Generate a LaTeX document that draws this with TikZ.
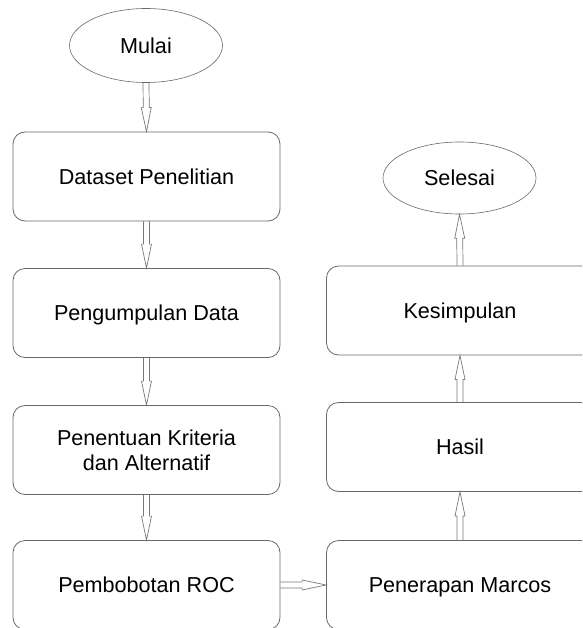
\documentclass[tikz,border=0pt]{standalone}
\usepackage{fontspec}
\setmainfont{Liberation Sans}
\usetikzlibrary{calc,shapes.geometric}
\definecolor{linecol}{RGB}{105,105,105}
\definecolor{arrowcol}{RGB}{120,120,120}
\tikzset{
  boxbase/.style={draw=linecol, line width=0.8pt, rounded corners=12pt,
    minimum width=267pt, minimum height=89pt, inner sep=0pt,
    font=\fontsize{21.6}{25}\selectfont, align=center},
  stepbox/.style={boxbase, text height=15.5pt, text depth=0pt},
  terminal/.style={draw=linecol, line width=0.6pt, ellipse, inner sep=0pt,
    minimum width=153pt, minimum height=74pt,
    font=\fontsize{21.6}{25}\selectfont, text height=15.5pt, text depth=0pt},
  arrowline/.style={draw=arrowcol, line width=0.7pt, line join=miter}
}
\newcommand\flowarrow[2]{%
  \coordinate (fa-s) at (#1);
  \coordinate (fa-e) at (#2);
  \coordinate (fa-h) at ($(fa-e)!24pt!(fa-s)$);
  \draw[arrowline] ($(fa-s)!3pt!90:(fa-e)$) -- ($(fa-h)!3pt!90:(fa-e)$)
    -- ($(fa-h)!5pt!90:(fa-e)$) -- (fa-e) -- ($(fa-h)!5pt!-90:(fa-e)$)
    -- ($(fa-h)!3pt!-90:(fa-e)$) -- ($(fa-s)!3pt!-90:(fa-e)$);
}
\begin{document}
\begin{tikzpicture}[x=1pt,y=-1pt]
  \path[use as bounding box, clip] (0,0) rectangle (582,628);
  \fill[white] (0,0) rectangle (582,628);
  \node[terminal] (mulai) at (146,45.5) {Mulai};
  \node[stepbox] (b1) at (146.5,176.5) {Dataset Penelitian};
  \node[stepbox] (b2) at (146.5,313) {Pengumpulan Data};
  \node[boxbase] (b3) at (146.5,450) {Penentuan Kriteria\\dan Alternatif};
  \node[stepbox] (b4) at (146.5,585) {Pembobotan ROC};
  \node[stepbox] (pen) at (460,585) {Penerapan Marcos};
  \node[stepbox] (hasil) at (460,447) {Hasil};
  \node[stepbox] (kes) at (460,310.5) {Kesimpulan};
  \node[terminal, minimum height=72pt] (selesai) at (459.5,178) {Selesai};
  \flowarrow{mulai.south}{b1.north}
  \flowarrow{b1.south}{b2.north}
  \flowarrow{b2.south}{b3.north}
  \flowarrow{b3.south}{b4.north}
  \flowarrow{b4.east}{pen.west}
  \flowarrow{pen.north}{hasil.south}
  \flowarrow{hasil.north}{kes.south}
  \flowarrow{kes.north}{selesai.south}
\end{tikzpicture}
\end{document}
